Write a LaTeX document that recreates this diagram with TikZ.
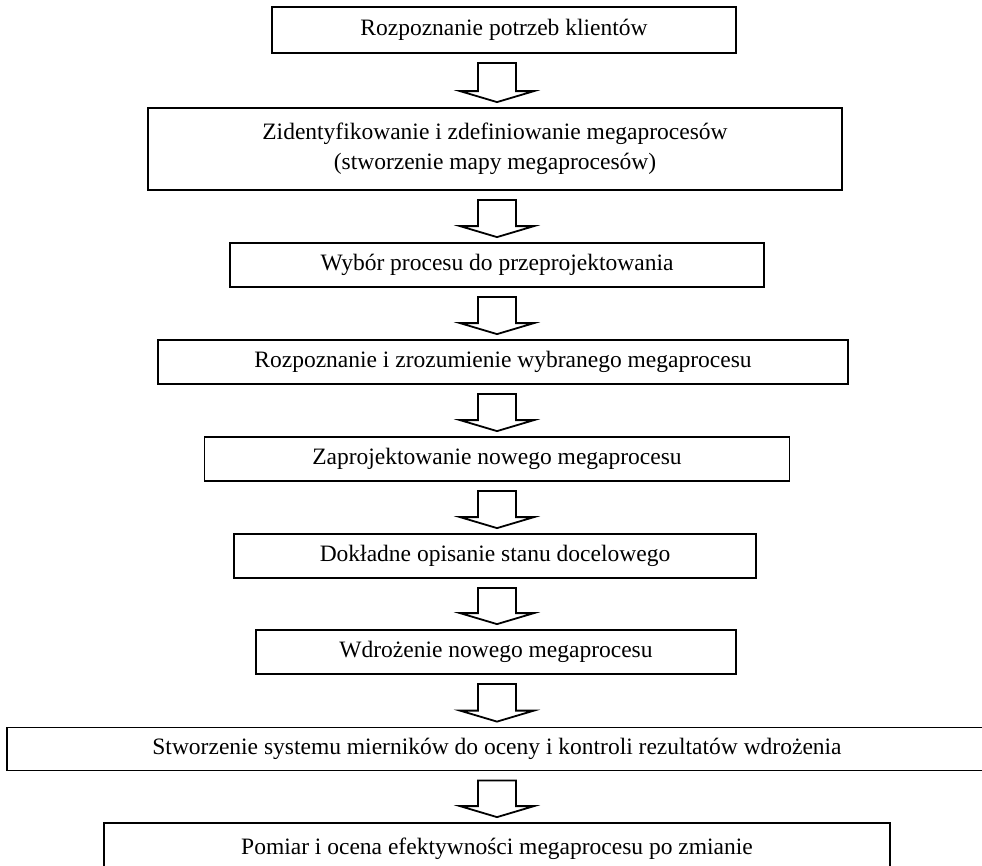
\documentclass[tikz,border=0pt]{standalone}
\usepackage{fontspec}
\setmainfont{Liberation Serif}
\usetikzlibrary{calc}
\newcommand\blockarrow[2]{%
  \draw[blk] let \p1=(axis |- #1.south), \p2=(axis |- #2.north) in
    (\x1-19pt,\y1-9pt) -- (\x1+19pt,\y1-9pt) -- (\x1+19pt,\y2+16pt) --
    (\x1+37pt,\y2+16pt) -- (\x1,\y2+5pt) -- (\x1-37pt,\y2+16pt) --
    (\x1-19pt,\y2+16pt) -- cycle;}
\begin{document}
\begin{tikzpicture}[x=1pt,y=-1pt,
  box/.style={draw, line width=1.8pt, inner sep=0pt, align=center,
    font=\fontsize{23.5}{30}\selectfont},
  blk/.style={draw, line width=1.8pt, fill=white, line join=miter}]
\useasboundingbox (0,0) rectangle (982,865);
\clip (0,0) rectangle (982,865);
\coordinate (axis) at (497,0);
\node[box, minimum width=464, minimum height=46] (b1) at (504,30) {Rozpoznanie potrzeb klientów};
\node[box, minimum width=694, minimum height=82] (b2) at (495,149) {Zidentyfikowanie i zdefiniowanie megaprocesów\\(stworzenie mapy megaprocesów)};
\node[box, minimum width=534, minimum height=44] (b3) at (497,265) {Wybór procesu do przeprojektowania};
\node[box, minimum width=690, minimum height=44] (b4) at (503,362) {Rozpoznanie i zrozumienie wybranego megaprocesu};
\node[box, minimum width=585, minimum height=44] (b5) at (497,459) {Zaprojektowanie nowego megaprocesu};
\node[box, minimum width=522, minimum height=44] (b6) at (495,556) {Dokładne opisanie stanu docelowego};
\node[box, minimum width=480, minimum height=44] (b7) at (496,652) {Wdrożenie nowego megaprocesu};
\node[box, minimum width=980, minimum height=43] (b8) at (497,749) {Stworzenie systemu mierników do oceny i kontroli rezultatów wdrożenia};
\node[box, minimum width=786, minimum height=52] (b9) at (497,849) {Pomiar i ocena efektywności megaprocesu po zmianie};
\blockarrow{b1}{b2}
\blockarrow{b2}{b3}
\blockarrow{b3}{b4}
\blockarrow{b4}{b5}
\blockarrow{b5}{b6}
\blockarrow{b6}{b7}
\blockarrow{b7}{b8}
\blockarrow{b8}{b9}
\end{tikzpicture}
\end{document}
